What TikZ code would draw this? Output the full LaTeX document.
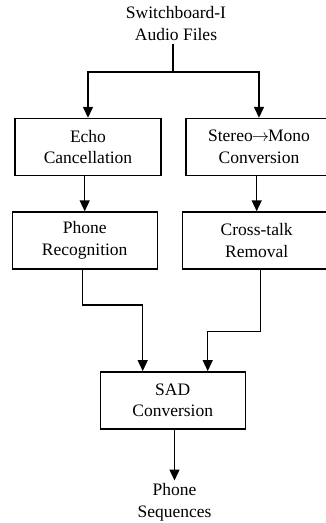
\documentclass[tikz,border=0pt]{standalone}
\usepackage{fontspec}
\setmainfont{Liberation Serif}
\usetikzlibrary{arrows.meta}

\begin{document}
\begin{tikzpicture}[x=1pt,y=-1pt,
  txt/.style={font=\fontsize{17.5}{21.5}\selectfont, align=center, inner sep=3pt},
  stage/.style={txt, draw, line width=1.4pt, minimum width=146pt, minimum height=57pt},
  arr/.style={line width=1.4pt, -{Triangle[length=11pt,width=10pt]}},
  ln/.style={line width=1.4pt}]
  \useasboundingbox (0,0) rectangle (326,523);
  \clip (0,0) rectangle (326,523);

  % source and processing stages
  \node[txt] (src) at (176,23.5) {Switchboard-I\\Audio Files};
  \node[stage] (echo) at (88,147) {Echo\\Cancellation};
  \node[stage] (stereo) at (259,147) {Stereo\kern-1pt$\rightarrow$\kern-1ptMono\\Conversion};
  \node[stage, minimum width=145pt] (phone) at (84.7,240.5) {Phone\\Recognition};
  \node[stage, minimum width=148pt] (cross) at (256.7,240.5) {Cross-talk\\Removal};
  \node[stage, minimum width=145pt] (sad) at (172.7,400.3) {SAD\\Conversion};
  \node[txt, anchor=north] (out) at (174.5,480.5) {Phone\\Sequences};

  % routing points
  \coordinate (j) at (173,72);
  \coordinate (k1) at (82.7,305);
  \coordinate (k2) at (260.7,331.7);

  % connectors
  \draw[ln] (src.south -| j) -- (j);
  \draw[arr] (j) -| (echo.north);
  \draw[arr] (j) -| (stereo.north);
  \draw[arr] (echo.south -| phone.north) -- (phone.north);
  \draw[arr] (stereo.south -| cross.north) -- (cross.north);
  \draw[arr] (phone.south -| k1) -- (k1) -| ([xshift=-30pt]sad.north);
  \draw[arr] (cross.south -| k2) -- (k2) -| ([xshift=35pt]sad.north);
  \draw[arr] (sad.south -| out.north) -- (out.north);
\end{tikzpicture}
\end{document}
